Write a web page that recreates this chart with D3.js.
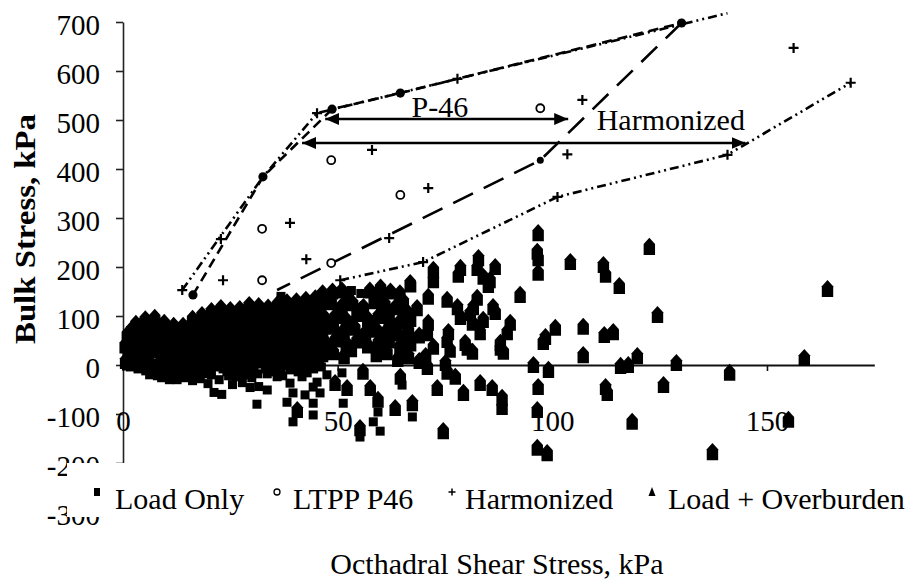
<!DOCTYPE html>
<html>
<head>
<meta charset="utf-8">
<script src="https://cdn.jsdelivr.net/npm/d3@7"></script>
<style>
  html, body { margin: 0; padding: 0; background: #fff; }
  svg { display: block; }
</style>
</head>
<body>
<svg id="chart" width="914" height="582"></svg>
<script>
// ---- tick labels ----
const xTicks = [0, 50, 100, 150];
const yTicks = [700, 600, 500, 400, 300, 200, 100, 0, -100, -200, -300];

// ---- series names ----
const seriesNames = ["Load Only", "LTPP P46", "Harmonized", "Load + Overburden"];

// ---- Load Only: [octahedral shear stress, bulk stress] in kPa ----
const loadOnly = [
  [0.8,-2],[2.6,4],[4.4,6],[6.2,8],[8,4],[9.8,2],[11.6,0],[13.4,2],[15.2,6],[17,4],[18.8,8],[20.6,10],[22.4,12],
  [24.2,8],[26,14],[27.8,18],[29.6,16],[31.4,12],[33.2,20],[35,22],[36.8,26],[38.6,24],[40.4,28],[42.2,30],[44,30],[45.8,34],
  [1.7,-4],[4.4,-2],[6.2,-4],[8,-6],[9.8,-8],[11.6,-10],[13.4,-6],[15.2,-4],[17,-2],[18.8,0],[20.6,2],[22.4,2],
  [24.2,0],[26,4],[27.8,8],[29.6,6],[31.4,4],[33.2,10],[35,14],[36.8,16],[38.6,14],[40.4,18],[42.2,20],[44,20],[45.8,22],
  [3.5,-8],[5.3,-12],[7.1,-14],[8.9,-12],[10.7,-18],[12.5,-16],[14.3,-10],[16.1,-14],[17.9,-8],[19.7,-6],[21.5,-4],[23.3,-8],
  [25.1,-2],[26.9,0],[28.7,-2],[30.5,-6],[32.3,2],[34.1,4],[35.9,6],[37.7,8],[39.5,6],[41.3,10],[43.1,12],[44.9,10],
  [6.2,-20],[8,-22],[9.8,-22],[11.6,-24],[13.4,-22],[15.2,-22],[17,-22],[18.8,-18],[20.6,-20],[22.4,-30],[24.2,-14],
  [26,-12],[27.8,-10],[29.6,-14],[31.4,-18],[33.2,-8],[35,-6],[36.8,-8],[38.6,-2],[40.4,-4],[42.2,2],[44,0],[45.8,4],
  [9,-26],[10.8,-30],[12.6,-30],[14.4,-26],[16.2,-32],[18,-28],[19.8,-38],[21.2,-56],[23,-60],[24.6,-22],[26.4,-24],
  [28.2,-20],[30,-26],[31.6,-44],[33.6,-18],[35.4,-14],[37.2,-22],[39,-10],[40.8,-14],[42.6,-6],[44.4,-8],[46.2,-4],
  [25.5,-40],[27.8,-36],[29.6,-46],[33.6,-51],[35.9,-24],[38.9,-37],[39.6,-57],[41.7,-24],[42.4,-61],[44.3,-45],
  [42.9,-16],[45.2,-35],[45.9,-57],[47.5,-20],
  [31.2,-80],[38.2,-76],[39.6,-116],[44.3,-78],[44.3,-102],[51.3,-78],[51,-16],[59.4,-96],[58.3,-116],[55.2,-147],
  [59.9,-135],[67.4,-106],[65,-41],[36.8,140],[53.2,152],[55.4,146]
];

// ---- LTPP P46 test stress states ----
const ltppP46 = [
  [32.4,278],[32.4,173],[48.5,418],[48.5,208],[64.6,347],[97.2,524]
];

// ---- Harmonized test stress states ----
const harmonized = [
  [13.8,153],[22.8,257],[23.3,173],[38.9,290],[42.7,216],[50.6,173],[58.0,439],[62.0,259],[69.9,210],[71.1,361],
  [77.9,584],[103.5,430],[101.2,343],[107,541],[140.8,429],[156.2,647],[169.5,576],[45.2,514]
];

// ---- Load + Overburden ----
const loadOverburden = [
  // dense cluster near the origin
  [1,62],[3,84],[5.2,93],[7.4,96],[9.6,86],[11.8,80],[14,80],[16.2,94],[18.4,102],[20.6,110],[22.8,116],[25,112],
  [27.2,114],[29.4,122],[31.6,120],[33.8,117],[36,124],[38.2,128],[40.4,130],[42.6,133],[44.8,136],
  [2,72],[4.1,80],[6.3,84],[8.5,80],[10.7,72],[12.9,68],[15,74],[17.2,86],[19.4,94],[21.6,102],[23.8,104],[26,102],
  [28.2,106],[30.4,110],[32.6,108],[34.8,110],[37,114],[39.2,118],[41.4,120],[43.6,122],[45.8,126],
  [0.5,40],[2.2,60],[4.3,70],[6.5,74],[8.6,66],[10.8,60],[13,58],[15.1,70],[17.3,80],[19.5,88],[21.7,94],[23.9,90],
  [26.1,92],[28.3,100],[30.5,98],[32.7,95],[34.9,102],[37.1,106],[39.3,108],[41.5,110],[43.7,112],[45.9,114],
  [1.5,30],[3.7,54],[5.9,62],[8,58],[10.2,50],[12.4,48],[14.6,54],[16.7,66],[18.9,72],[21.1,80],[23.3,80],[25.5,80],
  [27.7,86],[29.9,88],[32.1,86],[34.3,88],[36.5,92],[38.7,96],[40.9,98],[43.1,100],[45.3,102],
  [1.2,22],[3.2,40],[5.4,48],[7.6,52],[9.7,44],[11.9,38],[14.1,40],[16.3,50],[18.5,58],[20.7,66],[22.9,70],[25.1,68],
  [27.3,72],[29.5,78],[31.7,76],[33.9,74],[36.1,80],[38.3,84],[40.5,86],[42.7,88],[44.9,90],
  [1.8,14],[3.9,32],[6,40],[8.2,38],[10.3,30],[12.5,28],[14.7,34],[16.9,42],[19.1,50],[21.3,56],[23.5,58],[25.7,60],
  [27.9,64],[30.1,66],[32.3,64],[34.5,66],[36.7,70],[38.9,74],[41.1,76],[43.3,78],[45.5,80],
  [0.6,8],[2.4,18],[4.5,26],[6.7,30],[8.9,24],[11,18],[13.2,20],[15.4,28],[17.6,36],[19.8,44],[22,48],[24.2,46],
  [26.4,50],[28.6,56],[30.8,54],[33,52],[35.2,58],[37.4,62],[39.6,64],[41.8,66],[44,68],[46.2,70],
  [16.5,12],[18.7,20],[20.9,26],[23.1,24],[25.3,28],[27.5,34],[29.7,32],[31.9,30],[34.1,36],[36.3,40],[38.5,42],
  [40.7,44],[42.9,46],[45.1,48],
  // 45 - 70 kPa band
  [46.5,146],[48.8,150],[51,152],[57.5,152],[60,158],[62.3,150],[64.5,146],[67,164],
  [47.8,134],[52.5,138],[59.7,142],[65.3,130],
  [46,122],[48.5,128],[51,120],[53.5,126],[56,118],[58.5,130],[61,124],[63.5,118],[66,110],[68.5,116],
  [50.3,110],[55.3,112],[60.3,112],[65.3,100],
  [47,96],[49.5,100],[52,92],[54.5,104],[57,94],[59.5,100],[62,96],[64.5,88],[67,94],
  [48.2,84],[53.2,82],[58.2,84],[63.2,78],
  [46.5,72],[49,78],[51.5,70],[54,76],[56.5,66],[59,72],[61.5,70],[64,64],[66.5,70],[69,60],
  [50.7,62],[55.7,58],[60.7,60],[65.7,56],
  [47,48],[49.5,52],[52,44],[54.5,50],[57,40],[59.5,46],[62,50],[64.5,38],[67,44],
  [48.2,36],[53.2,32],[60.7,38],[65.7,32],
  [46.5,22],[49,26],[51.5,18],[59,22],[61.5,26],[64,12],[66.5,18],[69,8],[70.5,18],
  // scattered points at higher shear stress
  [96.7,269],[96.5,231],[96.7,218],[96.7,188],[104.2,210],[111.9,204],[112.4,184],[115.6,161],[122.6,241],
  [124.5,102],[164.1,155],
  [82.8,218],[82.5,198],[83.9,180],[85.5,173],[86.7,200],[85.1,163],[78.6,198],[78.1,184],[72.3,194],[72.3,173],
  [71.1,139],[66.9,167],[92.5,143],[82.5,137],[75.5,133],[77.9,118],[81.6,118],[86.2,118],[86.7,108],
  [71.1,86],[75.8,67],[78.6,98],[80.9,106],[81.4,86],[83.9,92],[83.2,67],[90.2,86],[89.5,67],[87.9,45],[88.6,27],
  [79.7,45],[81.4,27],[75.5,51],[76.2,31],[70.9,65],[72.3,37],[100.7,76],[98.4,57],[107.2,78],[112.1,61],[114.2,67],
  [75.1,4],[80.2,35],[87.9,35],[97.9,47],[107.2,20],[95.6,0],[119.8,18],[115.9,-2],[117.7,0],[128.9,4],[158.7,14],
  // negative bulk stress
  [40.6,-92],[49.4,-37],[52.2,-47],[55.9,-14],[57.6,-47],[59.4,-71],[55.2,-129],[63.4,-88],[67.4,-78],[64.6,-24],
  [70.9,-4],[73.2,-47],[75.5,-14],[77.4,-24],[79.3,-57],[74.6,-135],[83.2,-37],[86,-47],[88.3,-67],[88.3,-86],
  [99.1,-10],[96.7,-45],[96.5,-92],[96.5,-169],[98.8,-180],[118.6,-116],[155,-112],[137.3,-178],[141.3,-16],
  [125.9,-41],[112.4,-45],[112.8,-57]
];

// ---- envelope lines through the test sequences ----
const p46Upper = [[16.3,143],[32.6,384],[48.7,522],[64.6,555],[130.1,698]];
const p46Lower = [[130.1,698],[97.2,418],[35.9,153]];
const harmUpper = [[13.8,153],[32.6,384],[45.2,514],[77.9,584],[140.8,718]];
const harmLower = [[50.6,173],[69.9,210],[101.2,343],[140.8,429],[169.5,576]];

// ---- range annotations (shear stress span at a bulk stress level) ----
const rangeLabels = ["P-46", "Harmonized"];
const rangeStart = [47.1, 41.7];
const rangeEnd = [103.7, 145];
const rangeLevel = [502, 453];
const rangeTextX = [73.8, 127.6];
const rangeTextY = [506, 480];

// ---------------------------------------------------------------
const svg = d3.select("#chart");
const FONT = "'Liberation Serif', 'Times New Roman', Times, serif";
const hyphenFormat = d => String(d);   // plain hyphen-minus for negatives

const x = d3.scaleLinear().domain([0, 175]).range([123, 874.3]);
const y = d3.scaleLinear().domain([-300, 700]).range([512, 22]);

svg.append("rect").attr("width", 914).attr("height", 582).attr("fill", "#fff");

// arrow heads
const defs = svg.append("defs");
["start", "end"].forEach(k => {
  defs.append("marker")
    .attr("id", "head-" + k)
    .attr("viewBox", "0 0 14 12")
    .attr("refX", k === "end" ? 14 : 0).attr("refY", 6)
    .attr("markerWidth", 14).attr("markerHeight", 12)
    .attr("markerUnits", "userSpaceOnUse")
    .attr("orient", "auto")
    .append("path")
    .attr("d", k === "end" ? "M0,0L14,6L0,12Z" : "M14,0L0,6L14,12Z")
    .attr("fill", "#000");
});

// y axis
const yAxis = svg.append("g")
  .attr("transform", `translate(${x(0)},0)`)
  .call(d3.axisLeft(y).tickValues(yTicks).tickSize(7).tickSizeOuter(0).tickPadding(16).tickFormat(hyphenFormat));
yAxis.select(".domain").attr("stroke", "#222").attr("stroke-width", 1.6);
yAxis.selectAll(".tick line").attr("stroke", "#222").attr("stroke-width", 1.6);
yAxis.selectAll("text")
  .attr("font-family", FONT).attr("font-size", 29).attr("fill", "#000")
  .attr("dy", "0.44em");

// x axis along zero bulk stress, labels set low
const xAxis = svg.append("g")
  .attr("transform", `translate(0,${y(0)})`)
  .call(d3.axisBottom(x).tickValues(xTicks).tickSize(6).tickSizeOuter(0).tickFormat(hyphenFormat));
xAxis.select(".domain").attr("stroke", "#111").attr("stroke-width", 2);
xAxis.selectAll(".tick line").attr("stroke", "#111").attr("stroke-width", 1.6);
xAxis.selectAll("text")
  .attr("font-family", FONT).attr("font-size", 29).attr("fill", "#000")
  .attr("y", 66).attr("dy", null);

// house-shaped marker for Load + Overburden
const houseSymbol = {
  draw(ctx, size) {
    const s = Math.sqrt(size) / 10;
    ctx.moveTo(0, -8 * s);
    ctx.lineTo(5 * s, -2.5 * s);
    ctx.lineTo(5 * s, 7 * s);
    ctx.lineTo(-5 * s, 7 * s);
    ctx.lineTo(-5 * s, -2.5 * s);
    ctx.closePath();
  }
};

const plot = svg.append("g");

plot.selectAll("path.ob").data(loadOverburden).join("path")
  .attr("class", "ob")
  .attr("transform", d => `translate(${x(d[0])},${y(d[1])})`)
  .attr("d", d3.symbol().type(houseSymbol).size(130)())
  .attr("fill", "#000");

plot.selectAll("rect.lo").data(loadOnly).join("rect")
  .attr("class", "lo")
  .attr("x", d => x(d[0]) - 4.5).attr("y", d => y(d[1]) - 4.5)
  .attr("width", 9).attr("height", 9)
  .attr("fill", "#000");

// envelope lines
const line = d3.line().x(d => x(d[0])).y(d => y(d[1]));
const lineG = svg.append("g").attr("fill", "none").attr("stroke", "#000").attr("stroke-width", 2.6);
lineG.append("path").datum(harmUpper).attr("d", line).attr("stroke-dasharray", "9,4,2,4,2,4");
lineG.append("path").datum(harmLower).attr("d", line).attr("stroke-dasharray", "9,4,2,4,2,4");
lineG.append("path").datum(p46Upper).attr("d", line).attr("stroke-dasharray", "10,6");
lineG.append("path").datum(p46Lower).attr("d", line).attr("stroke-dasharray", "22,12");

svg.append("g").selectAll("circle").data(p46Upper).join("circle")
  .attr("cx", d => x(d[0])).attr("cy", d => y(d[1])).attr("r", 4.6).attr("fill", "#000");
svg.append("circle").attr("cx", x(p46Lower[1][0])).attr("cy", y(p46Lower[1][1])).attr("r", 3.5).attr("fill", "#000");

// LTPP P46 states
svg.append("g").selectAll("circle").data(ltppP46).join("circle")
  .attr("cx", d => x(d[0])).attr("cy", d => y(d[1])).attr("r", 4)
  .attr("fill", "#fff").attr("stroke", "#000").attr("stroke-width", 1.8);

// Harmonized states
svg.append("g").selectAll("path").data(harmonized).join("path")
  .attr("transform", d => `translate(${x(d[0])},${y(d[1])})`)
  .attr("d", "M-5,0H5M0,-5V5")
  .attr("stroke", "#000").attr("stroke-width", 2.2);

// range arrows with labels
const arrowG = svg.append("g");
rangeLabels.forEach((lab, i) => {
  arrowG.append("line")
    .attr("x1", x(rangeStart[i])).attr("x2", x(rangeEnd[i]))
    .attr("y1", y(rangeLevel[i])).attr("y2", y(rangeLevel[i]))
    .attr("stroke", "#000").attr("stroke-width", 2.4)
    .attr("marker-start", "url(#head-start)").attr("marker-end", "url(#head-end)");
  arrowG.append("text")
    .attr("x", x(rangeTextX[i])).attr("y", y(rangeTextY[i]))
    .attr("text-anchor", "middle")
    .attr("font-family", FONT).attr("font-size", 30).attr("fill", "#000")
    .text(lab);
});

// legend panel
const leg = svg.append("g");
leg.append("rect").attr("x", 67).attr("y", 463).attr("width", 845).attr("height", 54).attr("fill", "#fff");
const legMarkX = [97, 277, 452, 652];
const legTextX = [115, 293, 465, 668];
seriesNames.forEach((name, i) => {
  const mx = legMarkX[i], my = 492;
  if (i === 0) leg.append("rect").attr("x", mx - 3).attr("y", my - 4).attr("width", 6).attr("height", 8).attr("fill", "#000");
  if (i === 1) leg.append("circle").attr("cx", mx).attr("cy", my).attr("r", 3).attr("fill", "#fff").attr("stroke", "#000").attr("stroke-width", 1.3);
  if (i === 2) leg.append("path").attr("d", `M${mx - 3.5},${my}H${mx + 3.5}M${mx},${my - 3.5}V${my + 3.5}`).attr("stroke", "#000").attr("stroke-width", 1.5);
  if (i === 3) leg.append("path").attr("d", `M${mx},${my - 5}L${mx + 3.5},${my + 4}H${mx - 3.5}Z`).attr("fill", "#000");
  leg.append("text").attr("x", legTextX[i]).attr("y", 509)
    .attr("font-family", FONT).attr("font-size", 30).attr("fill", "#000")
    .text(name);
});

// axis titles
svg.append("text")
  .attr("x", 497).attr("y", 574).attr("text-anchor", "middle")
  .attr("font-family", FONT).attr("font-size", 30).attr("fill", "#000")
  .text("Octhadral Shear Stress, kPa");

svg.append("text")
  .attr("transform", "translate(35,229) rotate(-90)")
  .attr("text-anchor", "middle")
  .attr("font-family", FONT).attr("font-size", 30).attr("font-weight", "bold").attr("fill", "#000")
  .attr("textLength", 230).attr("lengthAdjust", "spacingAndGlyphs")
  .text("Bulk Stress, kPa");
</script>
</body>
</html>
